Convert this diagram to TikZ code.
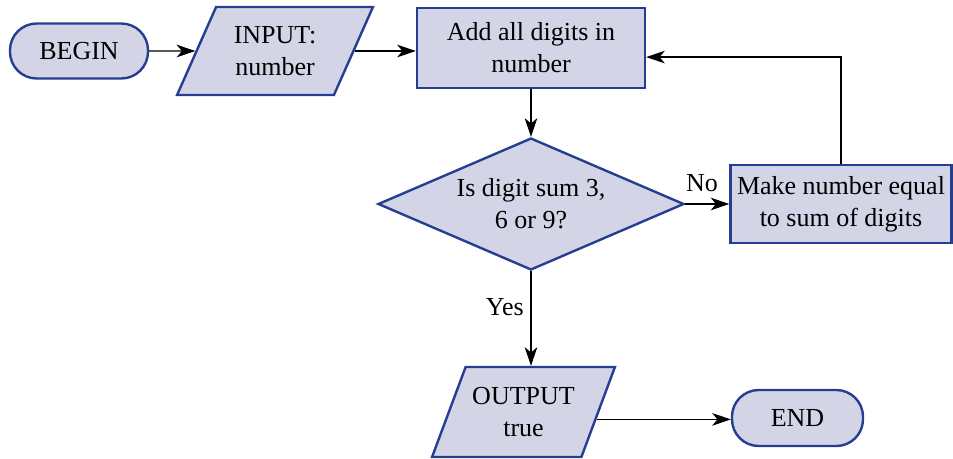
\documentclass[tikz,border=0pt]{standalone}
\usepackage{fontspec}
\setmainfont{Liberation Serif}
\usetikzlibrary{shapes.geometric,arrows.meta,calc}
\definecolor{boxfill}{RGB}{212,212,231}
\definecolor{boxline}{RGB}{38,62,146}
\begin{document}
\begin{tikzpicture}[x=0.75pt,y=-0.75pt,
  every node/.style={font=\fontsize{19.5pt}{24pt}\selectfont, align=center},
  base/.style={draw=boxline, fill=boxfill, line width=1.8pt, inner sep=0pt},
  term/.style={base, rectangle, rounded corners=20pt},
  proc/.style={base, rectangle},
  io/.style={base, trapezium, trapezium stretches=true},
  decide/.style={base, diamond, aspect=2.32},
  arr/.style={-{Stealth[length=14pt,width=9.5pt,inset=4pt]}, line width=0.9pt, black},
  lab/.style={inner sep=1pt}
]
\useasboundingbox (0,0) rectangle (953,458);
\node[term, minimum width=103.5pt, minimum height=41.25pt] (begin) at (79,51) {BEGIN};
\node[io, trapezium left angle=61, trapezium right angle=119, minimum width=147pt, minimum height=66pt] (input) at (275,51) {INPUT:\\number};
\node[proc, minimum width=171pt, minimum height=60pt] (add) at (531,48) {Add all digits in\\number};
\node[decide, minimum width=229.5pt, minimum height=99pt] (dia) at (531,204) {Is digit sum 3,\\6 or 9?};
\node[proc, minimum width=165.75pt, minimum height=58.5pt] (make) at (841,204) {Make number equal\\to sum of digits};
\node[io, trapezium left angle=59, trapezium right angle=121, minimum width=137.25pt, minimum height=67.5pt] (output) at (523.5,412) {OUTPUT\\true};
\node[term, minimum width=98.25pt, minimum height=42pt] (end) at (797.5,418) {END};
\coordinate (outr) at ($(output.top right corner)!0.58!(output.bottom right corner)$);
\coordinate (addr) at ($(add.north east)!0.61!(add.south east)$);

\draw[arr] (begin) -- (input);
\draw[arr] (input.east) -- (input.east -| add.west);
\draw[arr] (add.south) -- (dia.north);
\draw[arr] (dia.east) -- (dia.east -| make.west) node[lab, pos=0.38, above=8pt] {No};
\draw[arr] (make.north) |- (addr);
\draw[arr] (dia.south) -- (dia.south |- output.north) node[lab, pos=0.38, left=4pt] {Yes};
\draw[arr] (outr) -- (outr -| end.west);
\end{tikzpicture}
\end{document}
